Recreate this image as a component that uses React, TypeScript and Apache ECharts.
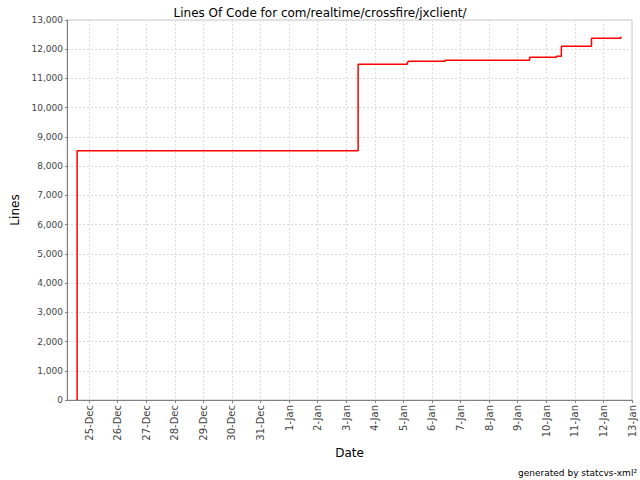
import React, { useEffect, useRef } from "react";
import * as echarts from "echarts";

const chartTitle = "Lines Of Code for com/realtime/crossfire/jxclient/";
const footerText = "generated by statcvs-xml\u00B2";
const xName = "Date";
const yName = "Lines";

// commit times (local) and lines of code after each commit
const commitTimes = [
  "2005-12-24T14:00",
  "2005-12-24T14:00",
  "2006-01-03T10:00",
  "2006-01-05T03:20",
  "2006-01-05T04:00",
  "2006-01-06T11:00",
  "2006-01-09T10:00",
  "2006-01-10T08:30",
  "2006-01-10T12:40",
  "2006-01-11T14:00",
  "2006-01-12T14:30",
  "2006-01-12T15:20",
];
const linesOfCode = [0, 8530, 11485, 11553, 11588, 11622, 11724, 11759, 12101, 12374, 12409, 12409];

// x-axis tick days
const tickDays = [
  "2005-12-25", "2005-12-26", "2005-12-27", "2005-12-28", "2005-12-29",
  "2005-12-30", "2005-12-31", "2006-01-01", "2006-01-02", "2006-01-03",
  "2006-01-04", "2006-01-05", "2006-01-06", "2006-01-07", "2006-01-08",
  "2006-01-09", "2006-01-10", "2006-01-11", "2006-01-12", "2006-01-13",
];
const xMin = "2005-12-24T05:30";
const xMax = "2006-01-13T00:00";
const yMin = 0;
const yMax = 13000;
const yStep = 1000;

const monthNames = ["Jan", "Feb", "Mar", "Apr", "May", "Jun", "Jul", "Aug", "Sep", "Oct", "Nov", "Dec"];

const toTs = (s: string) => new Date(s.length === 10 ? s + "T00:00" : s).getTime();

export default function App() {
  const ref = useRef<HTMLDivElement>(null);
  useEffect(() => {
    if (!ref.current) return;
    const chart = echarts.init(ref.current, undefined, { renderer: "svg" });
    const font = "DejaVu Sans";
    const data = commitTimes.map((t, i) => [toTs(t), linesOfCode[i]]);
    const ticks = tickDays.map(toTs);
    chart.setOption({
      animation: false,
      backgroundColor: "#ffffff",
      title: {
        text: chartTitle,
        left: "center",
        top: 2,
        textStyle: { fontFamily: font, fontSize: 12, fontWeight: "normal", color: "#000" },
      },
      graphic: [
        {
          type: "text",
          right: 3,
          bottom: 3,
          style: { text: footerText, fontFamily: font, fontSize: 9, fill: "#000" },
        },
      ],
      grid: {
        left: 67,
        right: 8,
        top: 20,
        bottom: 80,
        show: true,
        borderColor: "#c8c8c8",
        borderWidth: 1,
        outerBoundsMode: "none",
        containLabel: false,
      },
      xAxis: {
        type: "value",
        min: toTs(xMin),
        max: toTs(xMax),
        scale: true,
        name: xName,
        nameLocation: "middle",
        nameGap: 47,
        nameMoveOverlap: false,
        nameTextStyle: { fontFamily: font, fontSize: 12, color: "#000" },
        axisLine: { lineStyle: { color: "#808080", width: 1 } },
        axisTick: { show: true, length: 3, customValues: ticks, lineStyle: { color: "#808080" } },
        axisLabel: {
          customValues: ticks,
          rotate: 90,
          margin: 5,
          fontFamily: font,
          fontSize: 10,
          color: "#444",
          hideOverlap: false,
          showMinLabel: true,
          showMaxLabel: true,
          formatter: (v: number) => {
            const d = new Date(v);
            return d.getDate() + "-" + monthNames[d.getMonth()];
          },
        },
        splitLine: { show: true, lineStyle: { color: "#dcdcdc", type: [2, 2], width: 1 } },
      },
      yAxis: {
        type: "value",
        min: yMin,
        max: yMax,
        interval: yStep,
        name: yName,
        nameLocation: "middle",
        nameGap: 46,
        nameTextStyle: { fontFamily: font, fontSize: 12, color: "#000" },
        axisLine: { show: true, lineStyle: { color: "#808080", width: 1 } },
        axisTick: { show: true, length: 2, lineStyle: { color: "#808080" } },
        axisLabel: {
          margin: 4,
          fontFamily: font,
          fontSize: 9,
          color: "#444",
          formatter: (v: number) => v.toLocaleString("en-US"),
        },
        splitLine: { show: true, lineStyle: { color: "#dcdcdc", type: [2, 2], width: 1 } },
      },
      series: [
        {
          type: "line",
          step: "end",
          data,
          showSymbol: false,
          symbol: "none",
          lineStyle: { color: "#ff0000", width: 1.5 },
        },
      ],
    });
    return () => chart.dispose();
  }, []);
  return <div ref={ref} style={{ width: 640, height: 480, position: "absolute", left: 0, top: 0 }} />;
}
